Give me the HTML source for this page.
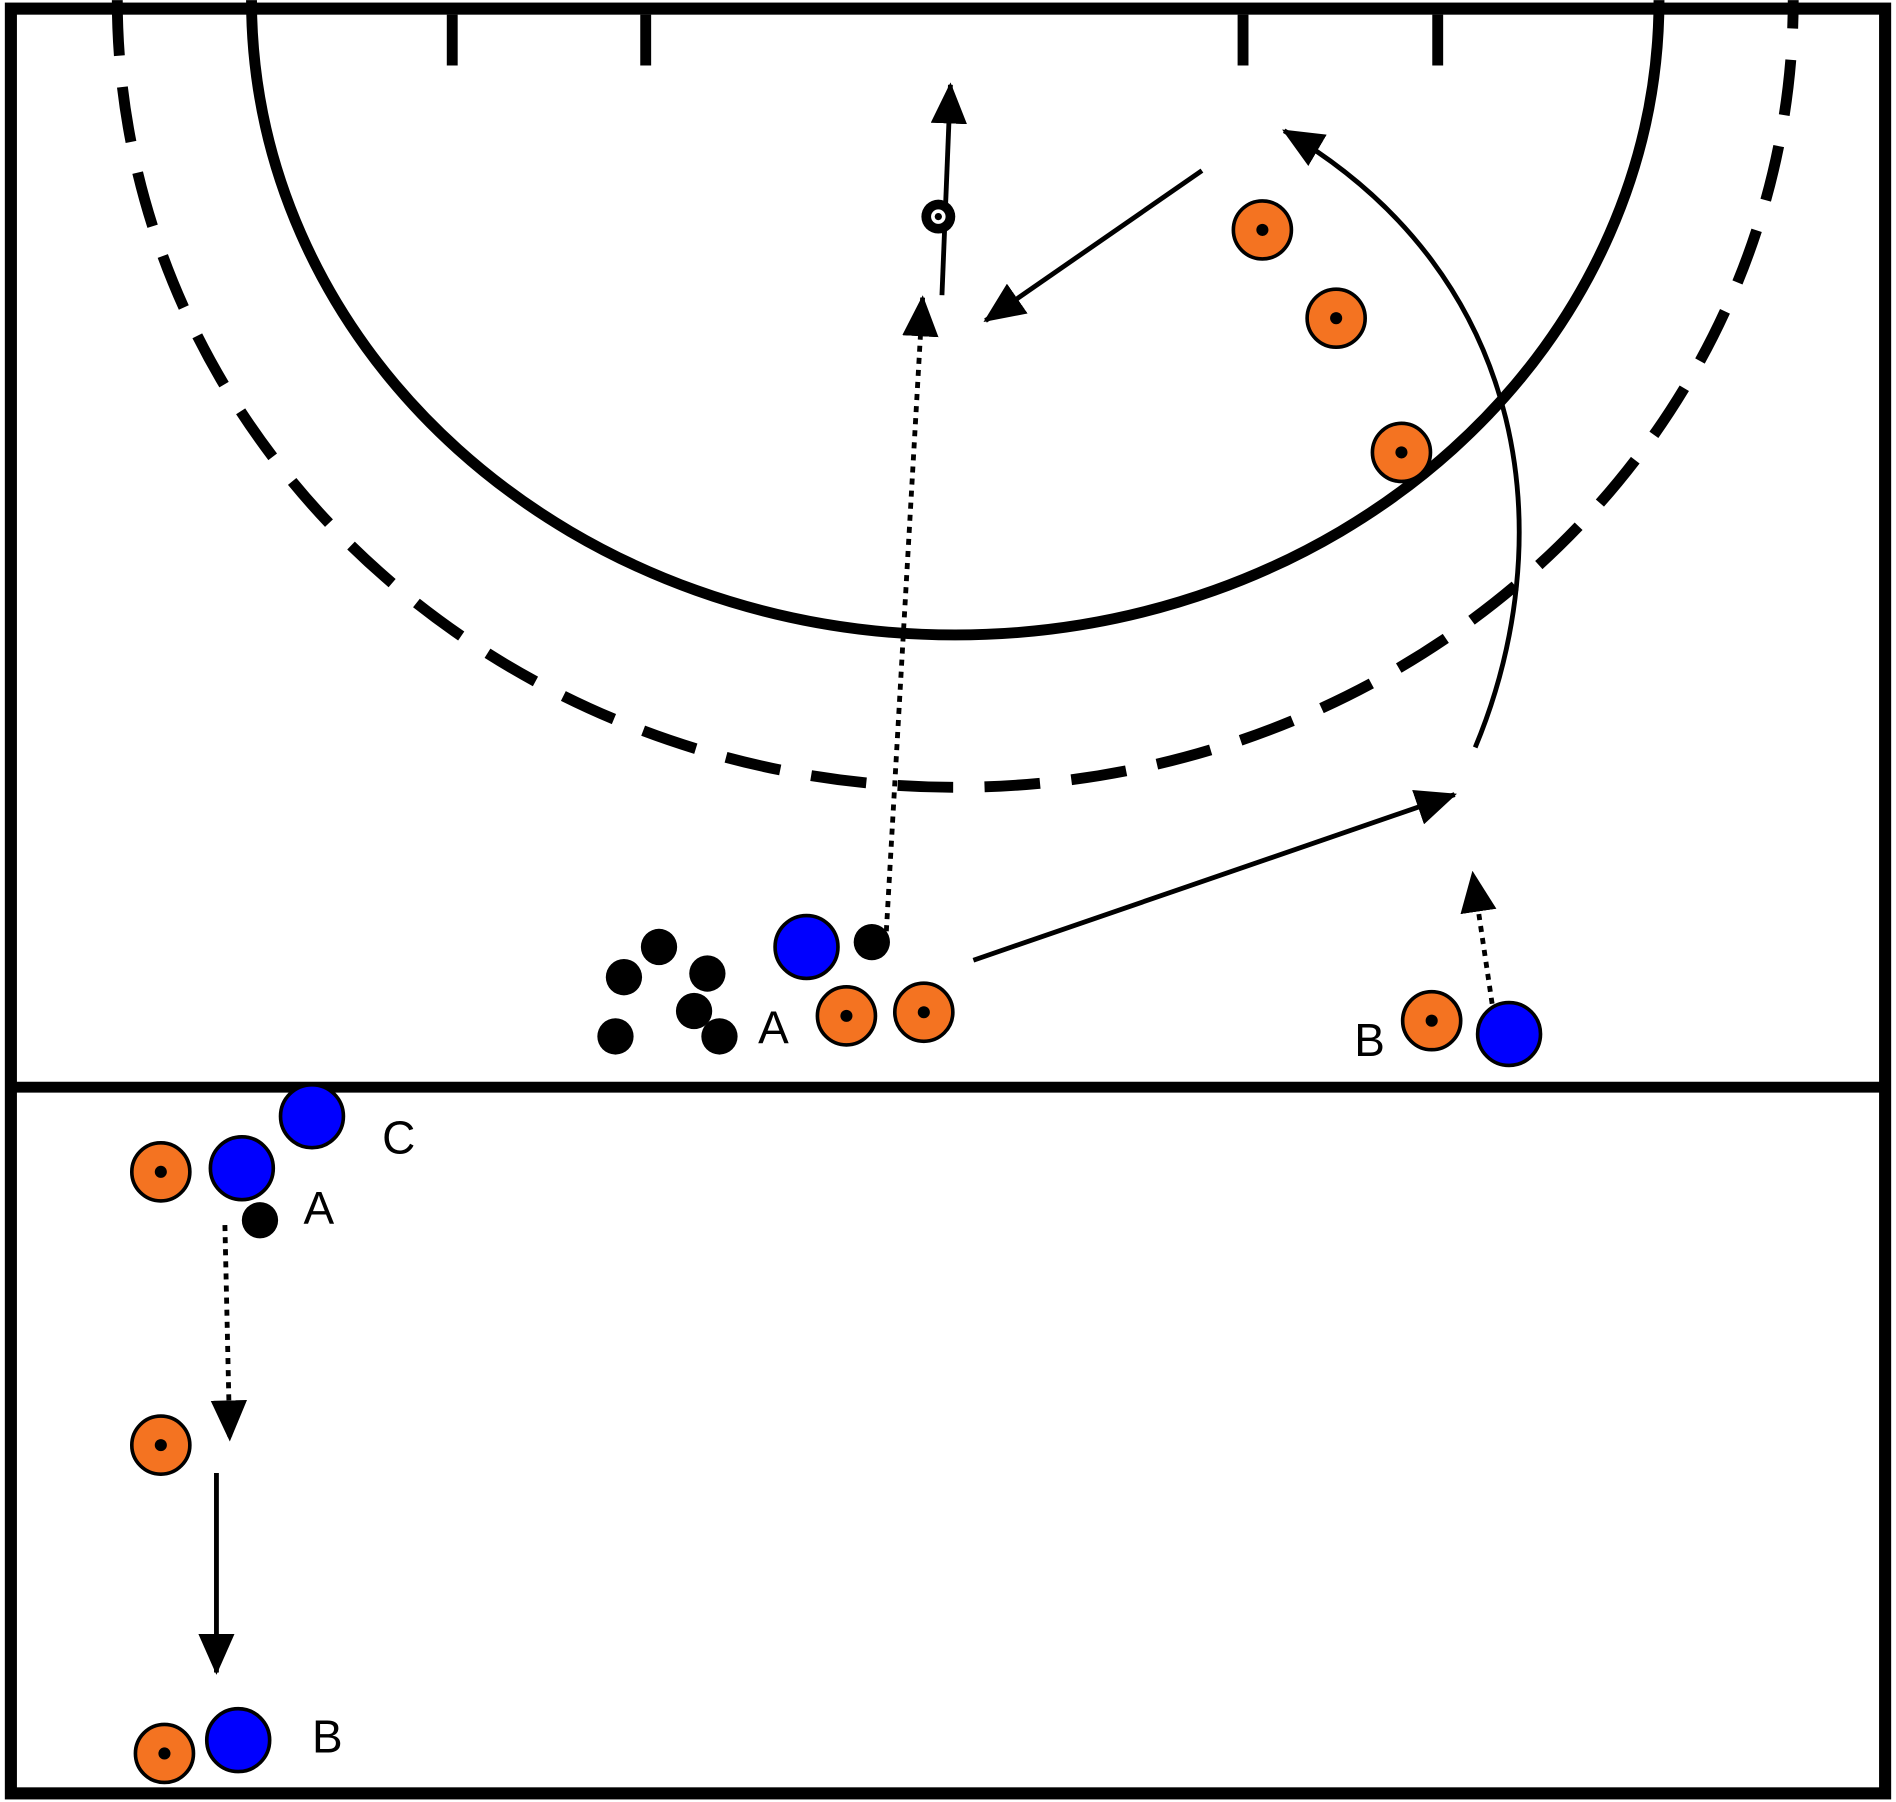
<!DOCTYPE html>
<html><head><style>html,body{margin:0;padding:0;background:#fff}svg{display:block}</style></head>
<body>
<svg width="1896" height="1802" viewBox="0 0 1568 1490" xmlns="http://www.w3.org/2000/svg">
<defs>
<marker id="ah" markerUnits="userSpaceOnUse" markerWidth="34" markerHeight="30" refX="32" refY="15" orient="auto">
<path d="M0,0 L34,15 L0,30 Z" fill="#000"/>
</marker>
</defs>
<rect x="0" y="0" width="1568" height="1490" fill="#fff"/>
<rect x="9" y="7" width="1550" height="1476" fill="none" stroke="#000" stroke-width="10"/>
<line x1="9" y1="899" x2="1559" y2="899" stroke="#000" stroke-width="9"/>
<path d="M208,0 A582,525 0 0 0 1372,0" fill="none" stroke="#000" stroke-width="9"/>
<path d="M97,0 A693,651 0 0 0 1483,0" fill="none" stroke="#000" stroke-width="9" stroke-dasharray="46,26"/>
<g stroke="#000" stroke-width="9">
<line x1="374" y1="12" x2="374" y2="54"/><line x1="534" y1="12" x2="534" y2="54"/>
<line x1="1028" y1="12" x2="1028" y2="54"/><line x1="1189" y1="12" x2="1189" y2="54"/>
</g>
<g fill="none" stroke="#000" stroke-width="4">
<line x1="779" y1="244" x2="786" y2="70" marker-end="url(#ah)"/>
<line x1="733" y1="770" x2="763" y2="246" stroke-dasharray="5,5" marker-end="url(#ah)"/>
<line x1="994" y1="141" x2="815" y2="265" marker-end="url(#ah)"/>
<line x1="805" y1="794" x2="1203" y2="657" marker-end="url(#ah)"/>
<path d="M1220,618 C1290,450 1270,230 1062,108" marker-end="url(#ah)"/>
<line x1="1234" y1="830" x2="1218" y2="722" stroke-dasharray="5,5" marker-end="url(#ah)"/>
<line x1="186" y1="1013" x2="190" y2="1190" stroke-dasharray="5,5" marker-end="url(#ah)"/>
<line x1="179" y1="1218" x2="179" y2="1383" marker-end="url(#ah)"/>
</g>
<g fill="#000">
<circle cx="545" cy="783" r="15"/><circle cx="516" cy="808" r="15"/><circle cx="585" cy="805" r="15"/>
<circle cx="574" cy="836" r="15"/><circle cx="509" cy="857" r="15"/><circle cx="595" cy="857" r="15"/>
<circle cx="721" cy="779" r="15"/><circle cx="215" cy="1009" r="15"/>
<circle cx="776" cy="179" r="14"/>
</g>
<circle cx="776" cy="179" r="6" fill="#fff"/><circle cx="776" cy="179" r="3" fill="#000"/>
<g stroke="#000" stroke-width="3" fill="#f47321">
<circle cx="1044" cy="190" r="24"/><circle cx="1105" cy="263" r="24"/><circle cx="1159" cy="374" r="24"/>
<circle cx="700" cy="840" r="24"/><circle cx="764" cy="837" r="24"/><circle cx="1184" cy="844" r="24"/>
<circle cx="133" cy="969" r="24"/><circle cx="133" cy="1195" r="24"/><circle cx="136" cy="1450" r="24"/>
</g>
<g fill="#000">
<circle cx="1044" cy="190" r="5"/><circle cx="1105" cy="263" r="5"/><circle cx="1159" cy="374" r="5"/>
<circle cx="700" cy="840" r="5"/><circle cx="764" cy="837" r="5"/><circle cx="1184" cy="844" r="5"/>
<circle cx="133" cy="969" r="5"/><circle cx="133" cy="1195" r="5"/><circle cx="136" cy="1450" r="5"/>
</g>
<g stroke="#000" stroke-width="3" fill="#0000ff">
<circle cx="667" cy="783" r="26"/><circle cx="1248" cy="855" r="26"/><circle cx="258" cy="923" r="26"/>
<circle cx="200" cy="966" r="26"/><circle cx="197" cy="1439" r="26"/>
</g>
<g font-family="Liberation Sans, sans-serif" font-size="38" fill="#000">
<text x="627" y="863">A</text><text x="1120" y="873">B</text>
<text x="316" y="954">C</text><text x="251" y="1012">A</text><text x="258" y="1449">B</text>
</g>
</svg>
</body></html>
